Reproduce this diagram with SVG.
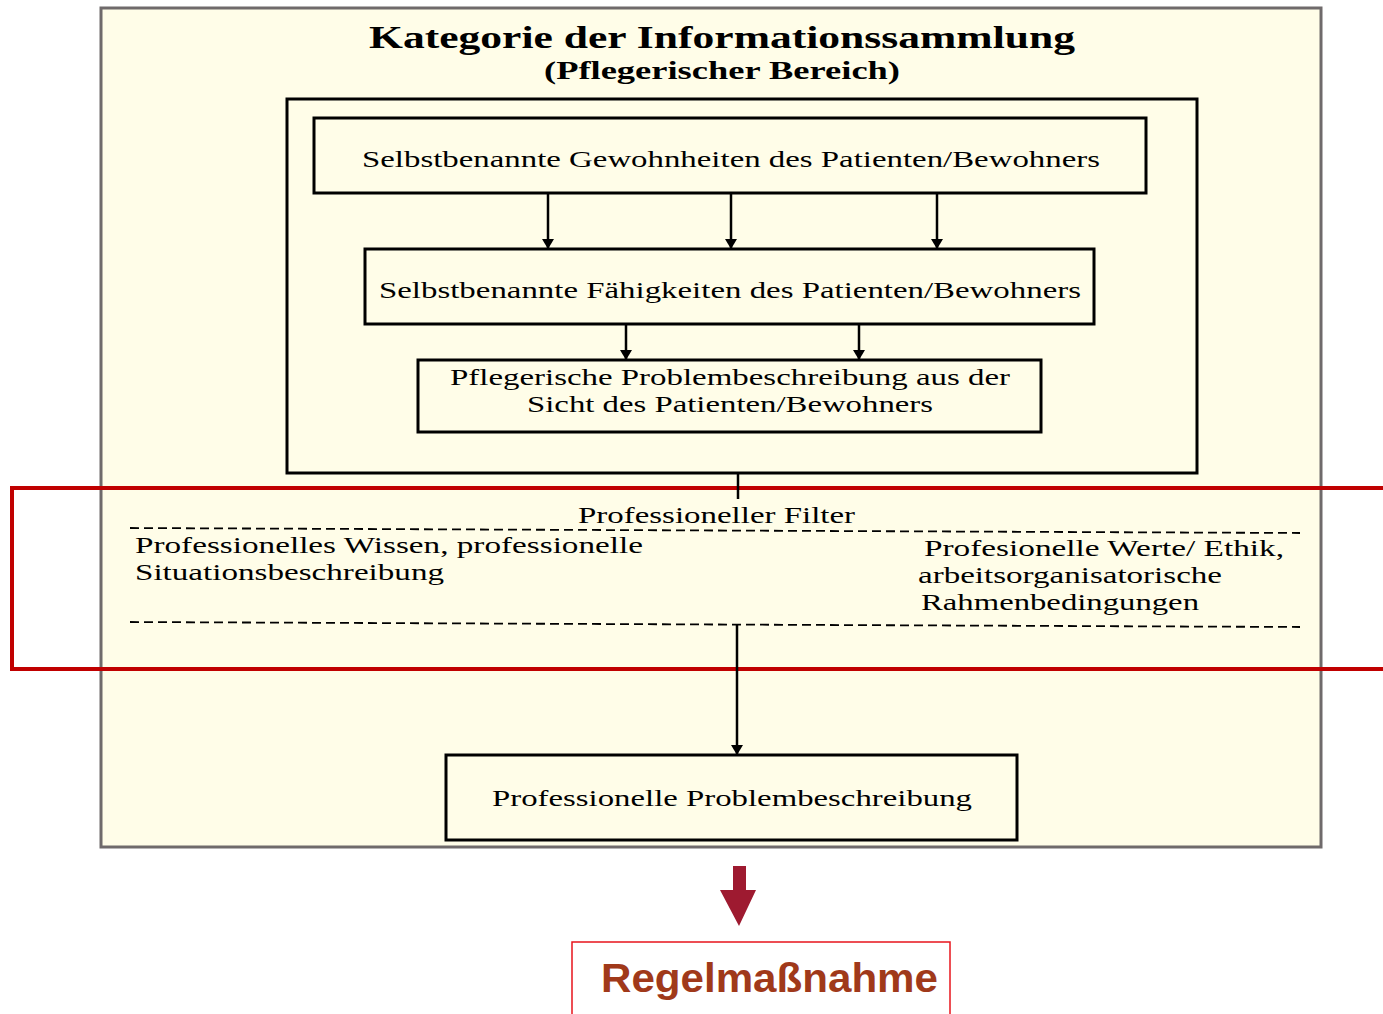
<svg xmlns="http://www.w3.org/2000/svg" width="1383" height="1014" viewBox="0 0 1383 1014">
<defs>
<style>
.box{fill:none;stroke:#000;stroke-width:3}
.t{font-family:"Liberation Serif","Times New Roman",serif;font-size:23px;fill:#000}
.tb{font-family:"Liberation Serif","Times New Roman",serif;font-weight:bold;fill:#000}
.con{stroke:#000;stroke-width:2.5;fill:none}
.dash{stroke:#000;stroke-width:1.8;stroke-dasharray:9 5;fill:none}
</style>
<marker id="ah" viewBox="0 0 10 12" refX="10" refY="6" markerWidth="10" markerHeight="12" markerUnits="userSpaceOnUse" orient="auto">
<path d="M0,0 L10,6 L0,12 Z" fill="#000"/>
</marker>
</defs>
<rect width="1383" height="1014" fill="#fff"/>
<g id="panel">
<rect x="101" y="8" width="1220" height="839" fill="#fffde8" stroke="#6f6a6b" stroke-width="3"/>
<text class="tb" x="722" y="48" font-size="32" text-anchor="middle" textLength="706" lengthAdjust="spacingAndGlyphs">Kategorie der Informationssammlung</text>
<text class="tb" x="722" y="79" font-size="25" text-anchor="middle" textLength="356" lengthAdjust="spacingAndGlyphs">(Pflegerischer Bereich)</text>
</g>
<g id="outer-box"><rect class="box" x="287" y="99" width="910" height="374"/></g>
<g id="n1"><rect class="box" x="314" y="118" width="832" height="75"/>
<text class="t" x="362" y="167" textLength="738" lengthAdjust="spacingAndGlyphs">Selbstbenannte Gewohnheiten des Patienten/Bewohners</text></g>
<g id="n2"><rect class="box" x="365" y="249" width="729" height="75"/>
<text class="t" x="379" y="298" textLength="702" lengthAdjust="spacingAndGlyphs">Selbstbenannte Fähigkeiten des Patienten/Bewohners</text></g>
<g id="n3"><rect class="box" x="418" y="360" width="623" height="72"/>
<text class="t" x="450" y="385" textLength="560" lengthAdjust="spacingAndGlyphs">Pflegerische Problembeschreibung aus der</text>
<text class="t" x="527" y="412" textLength="406" lengthAdjust="spacingAndGlyphs">Sicht des Patienten/Bewohners</text></g>
<g id="filter">
<rect x="12" y="488" width="1380" height="181" fill="none" stroke="#c00000" stroke-width="4"/>
<text class="t" x="578" y="523" textLength="277" lengthAdjust="spacingAndGlyphs">Professioneller Filter</text>
<line class="dash" x1="130" y1="528" x2="1300" y2="533"/>
<text class="t" x="135" y="553" textLength="508" lengthAdjust="spacingAndGlyphs">Professionelles Wissen, professionelle</text>
<text class="t" x="135" y="580" textLength="309" lengthAdjust="spacingAndGlyphs">Situationsbeschreibung</text>
<text class="t" x="924" y="556" textLength="360" lengthAdjust="spacingAndGlyphs">Profesionelle Werte/ Ethik,</text>
<text class="t" x="918" y="583" textLength="304" lengthAdjust="spacingAndGlyphs">arbeitsorganisatorische</text>
<text class="t" x="921" y="610" textLength="278" lengthAdjust="spacingAndGlyphs">Rahmenbedingungen</text>
<line class="dash" x1="130" y1="622" x2="1300" y2="627"/>
</g>
<g id="n4"><rect class="box" x="446" y="755" width="571" height="85"/>
<text class="t" x="492" y="806" textLength="480" lengthAdjust="spacingAndGlyphs">Professionelle Problembeschreibung</text></g>
<g id="connectors">
<line class="con" x1="548" y1="193" x2="548" y2="249" marker-end="url(#ah)"/>
<line class="con" x1="731" y1="193" x2="731" y2="249" marker-end="url(#ah)"/>
<line class="con" x1="937" y1="193" x2="937" y2="249" marker-end="url(#ah)"/>
<line class="con" x1="626" y1="324" x2="626" y2="360" marker-end="url(#ah)"/>
<line class="con" x1="859" y1="324" x2="859" y2="360" marker-end="url(#ah)"/>
<line class="con" x1="738" y1="473" x2="738" y2="499"/>
<line class="con" x1="737" y1="624" x2="737" y2="755" marker-end="url(#ah)"/>
<path d="M733,866 H746 V890 H756 L739,926 L720,890 H733 Z" fill="#9e1a30"/>
</g>
<g id="n5"><rect x="572" y="942" width="378" height="80" fill="#fff" stroke="#e8141c" stroke-width="1.5"/>
<text x="601" y="992" font-family="Liberation Sans, Arial, sans-serif" font-weight="bold" font-size="40" fill="#a0391a" textLength="337" lengthAdjust="spacingAndGlyphs">Regelmaßnahme</text></g>
</svg>
